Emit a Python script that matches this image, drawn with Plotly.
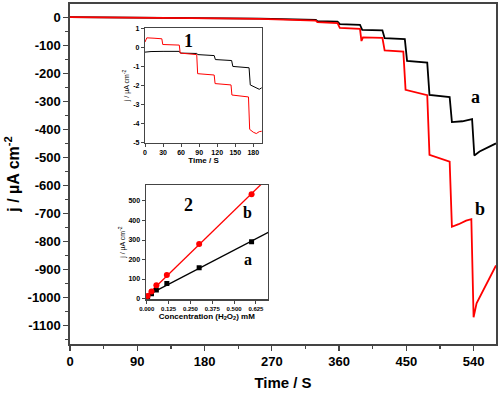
import numpy as np
import plotly.graph_objects as go

# ---------------- main chart data ----------------
t_a = [0, 100, 200, 254, 300, 329, 331, 358, 361, 388, 391, 418, 421, 448, 451, 478, 481,
       508, 511, 525, 538, 541, 548, 560, 570]
j_a = [0, -1, -3, -5, -8, -10, -14, -16, -25, -27, -45, -47, -75, -78, -156, -162, -277,
       -285, -374, -371, -363, -493, -479, -462, -450]

t_b = [0, 100, 200, 254, 300, 329, 331, 358, 361, 388, 390, 392, 418, 421, 446, 449, 478,
       481, 508, 511, 520, 530, 537, 540, 544, 553, 562, 570]
j_b = [0, -1, -4, -6, -9, -12, -18, -21, -38, -42, -85, -72, -74, -118, -123, -259, -278,
       -491, -515, -747, -738, -725, -720, -1070, -1020, -973, -925, -885]

main_yticks = [0, -100, -200, -300, -400, -500, -600, -700, -800, -900, -1000, -1100]
main_yticktext = ["0", "-100", "-200", "-300", "-400", "-500", "-600", "-700", "-800",
                  "-900", "-1000", "-1100"]
main_xticks = [0, 90, 180, 270, 360, 450, 540]

# ---------------- inset 1 data ----------------
t1_a = [0, 10, 30, 57, 59, 86, 88, 115, 117, 144, 146, 173, 175, 185, 190, 194]
j1_a = [-0.25, -0.22, -0.21, -0.21, -0.3, -0.32, -0.38, -0.43, -0.64, -0.69, -1.0, -1.07,
        -1.97, -2.1, -2.2, -2.12]
t1_b = [0, 3, 15, 28, 29.5, 45, 57, 58.5, 75, 86, 87.5, 100, 115, 116.5, 130, 143, 144.5,
        160, 172, 174, 180, 185, 190, 194]
j1_b = [0.28, 0.5, 0.48, 0.45, 0.15, 0.13, 0.12, -0.3, -0.34, -0.38, -1.38, -1.42, -1.45,
        -1.9, -1.94, -1.97, -2.5, -2.56, -2.6, -4.3, -4.45, -4.52, -4.42, -4.4]
inset1_xticks = [0, 30, 60, 90, 120, 150, 180]
inset1_yticks = [1, 0, -1, -2, -3, -4, -5]
inset1_yticktext = ["1", "0", "-1", "-2", "-3", "-4", "-5"]

# ---------------- inset 2 data ----------------
conc = [0.005, 0.027, 0.055, 0.115, 0.3, 0.6]
j2_a = [8, 25, 44, 77, 158, 291]
j2_b = [13, 36, 68, 120, 280, 535]
inset2_xticks = [0, 0.125, 0.25, 0.375, 0.5, 0.625]
inset2_xticktext = ["0.000", "0.125", "0.250", "0.375", "0.500", "0.625"]
inset2_yticks = [0, 100, 200, 300, 400, 500]

RED = "#ff0000"
BLK = "#000000"
AX = "#444444"

fig = go.Figure()

# main curves
fig.add_trace(go.Scatter(x=t_a, y=j_a, mode="lines", line=dict(color=BLK, width=1.8),
                         xaxis="x", yaxis="y", showlegend=False))
fig.add_trace(go.Scatter(x=t_b, y=j_b, mode="lines", line=dict(color=RED, width=1.8),
                         xaxis="x", yaxis="y", showlegend=False))

# inset 1 curves
fig.add_trace(go.Scatter(x=t1_a, y=j1_a, mode="lines", line=dict(color=BLK, width=1),
                         xaxis="x2", yaxis="y2", showlegend=False))
fig.add_trace(go.Scatter(x=t1_b, y=j1_b, mode="lines", line=dict(color=RED, width=1),
                         xaxis="x2", yaxis="y2", showlegend=False))

# inset 2 fits
fit_x = np.array([0.0, 0.72])
pa = np.polyfit(conc, j2_a, 1)
pb = np.polyfit(conc, j2_b, 1)
fig.add_trace(go.Scatter(x=fit_x, y=np.polyval(pa, fit_x), mode="lines",
                         line=dict(color=BLK, width=1.3), xaxis="x3", yaxis="y3",
                         showlegend=False))
fig.add_trace(go.Scatter(x=fit_x, y=np.polyval(pb, fit_x), mode="lines",
                         line=dict(color=RED, width=1.3), xaxis="x3", yaxis="y3",
                         showlegend=False))
fig.add_trace(go.Scatter(x=conc, y=j2_a, mode="markers",
                         marker=dict(color=BLK, size=5, symbol="square"),
                         xaxis="x3", yaxis="y3", showlegend=False))
fig.add_trace(go.Scatter(x=conc, y=j2_b, mode="markers",
                         marker=dict(color=RED, size=6, symbol="circle"),
                         xaxis="x3", yaxis="y3", showlegend=False))

L, R, T, B = 70, 4, 4, 51
W, H = 500, 395
PW, PH = W - L - R, H - T - B


def px2paper_x(px):
    return (px - L) / PW


def px2paper_y(py):
    return (H - B - py) / PH


tickfont_main = dict(family="Arial", size=13, color="black", weight="bold")
tickfont_in = dict(family="Arial", size=7, color="black", weight="bold")

fig.update_layout(
    width=W, height=H,
    margin=dict(l=L, r=R, t=T, b=B, autoexpand=False),
    paper_bgcolor="white", plot_bgcolor="white",
    xaxis=dict(domain=[0, 1], range=[0, 570], tickvals=main_xticks,
               ticks="outside", ticklen=5, tickwidth=1.3, tickcolor=AX,
               showline=True, linecolor=AX, linewidth=1.6, mirror=True,
               showgrid=False, zeroline=False, tickfont=tickfont_main,
               automargin=False,
               minor=dict(tickvals=[45, 135, 225, 315, 405, 495], ticks="outside",
                          ticklen=3, tickcolor=AX, showgrid=False),
               title=dict(text="Time / S", font=dict(family="Arial", size=15,
                                                     color="black", weight="bold"),
                          standoff=9),
               anchor="y"),
    yaxis=dict(domain=[0, 1], range=[-1165, 47], tickvals=main_yticks,
               ticktext=main_yticktext,
               ticks="outside", ticklen=5, tickwidth=1.3, tickcolor=AX,
               showline=True, linecolor=AX, linewidth=1.6, mirror=True,
               showgrid=False, zeroline=False, tickfont=tickfont_main,
               automargin=False,
               minor=dict(dtick=50, tick0=0, ticks="outside", ticklen=3,
                          tickcolor=AX, showgrid=False),
               title=dict(text="j / µA cm<sup>-2</sup>",
                          font=dict(family="Arial", size=16, color="black",
                                    weight="bold"),
                          standoff=4),
               anchor="x"),
    xaxis2=dict(domain=[px2paper_x(145), px2paper_x(262)], range=[0, 194.5],
                tickvals=inset1_xticks, ticks="outside", ticklen=3, tickcolor=AX,
                showline=True, linecolor=AX, linewidth=1.2, mirror=True,
                showgrid=False, zeroline=False, tickfont=tickfont_in,
                automargin=False,
                title=dict(text="Time / S", font=dict(family="Arial", size=8,
                                                      color="black", weight="bold"),
                           standoff=2),
                anchor="y2"),
    yaxis2=dict(domain=[px2paper_y(142.7), px2paper_y(28.3)], range=[-5, 1],
                tickvals=inset1_yticks, ticktext=inset1_yticktext,
                ticks="outside", ticklen=3, tickcolor=AX,
                showline=True, linecolor=AX, linewidth=1.2, mirror=True,
                showgrid=False, zeroline=False, tickfont=tickfont_in,
                automargin=False,
                title=dict(text="j / µA cm<sup>-2</sup>",
                           font=dict(family="Arial", size=7, color="black"),
                           standoff=2),
                anchor="x2"),
    xaxis3=dict(domain=[px2paper_x(145.7), px2paper_x(268)], range=[-0.006, 0.694],
                tickvals=inset2_xticks, ticktext=inset2_xticktext,
                ticks="outside", ticklen=3, tickcolor=AX,
                showline=True, linecolor=AX, linewidth=1.2, mirror=True,
                showgrid=False, zeroline=False, automargin=False,
                tickfont=dict(family="Arial", size=6, color="black", weight="bold"),
                title=dict(text="Concentration (H<sub>2</sub>O<sub>2</sub>) mM",
                           font=dict(family="Arial", size=8, color="black",
                                     weight="bold"),
                           standoff=2),
                anchor="y3"),
    yaxis3=dict(domain=[px2paper_y(299.3), px2paper_y(185)], range=[-4, 582],
                tickvals=inset2_yticks, ticks="outside", ticklen=3, tickcolor=AX,
                showline=True, linecolor=AX, linewidth=1.2, mirror=True,
                showgrid=False, zeroline=False, tickfont=tickfont_in,
                automargin=False,
                title=dict(text="j / µA cm<sup>-2</sup>",
                           font=dict(family="Arial", size=7, color="black"),
                           standoff=2),
                anchor="x3"),
)

serif_big = dict(family="Liberation Serif", size=18, color="black", weight="bold")
serif_mid = dict(family="Liberation Serif", size=16, color="black", weight="bold")
annots = [
    dict(x=542, y=-284, xref="x", yref="y", text="a", font=serif_big),
    dict(x=549, y=-684, xref="x", yref="y", text="b", font=serif_big),
    dict(x=72, y=0.35, xref="x2", yref="y2", text="1", font=serif_big),
    dict(x=0.238, y=481, xref="x3", yref="y3", text="2", font=serif_big),
    dict(x=0.577, y=439, xref="x3", yref="y3", text="b", font=serif_mid),
    dict(x=0.577, y=200, xref="x3", yref="y3", text="a", font=serif_mid),
]
for a in annots:
    fig.add_annotation(showarrow=False, **a)

fig.write_html(
    "out.html",
    config={"displayModeBar": False, "staticPlot": True},
    post_script="document.body.style.margin='0px';"
                "document.body.style.overflow='hidden';"
                "document.documentElement.style.overflow='hidden';",
)
